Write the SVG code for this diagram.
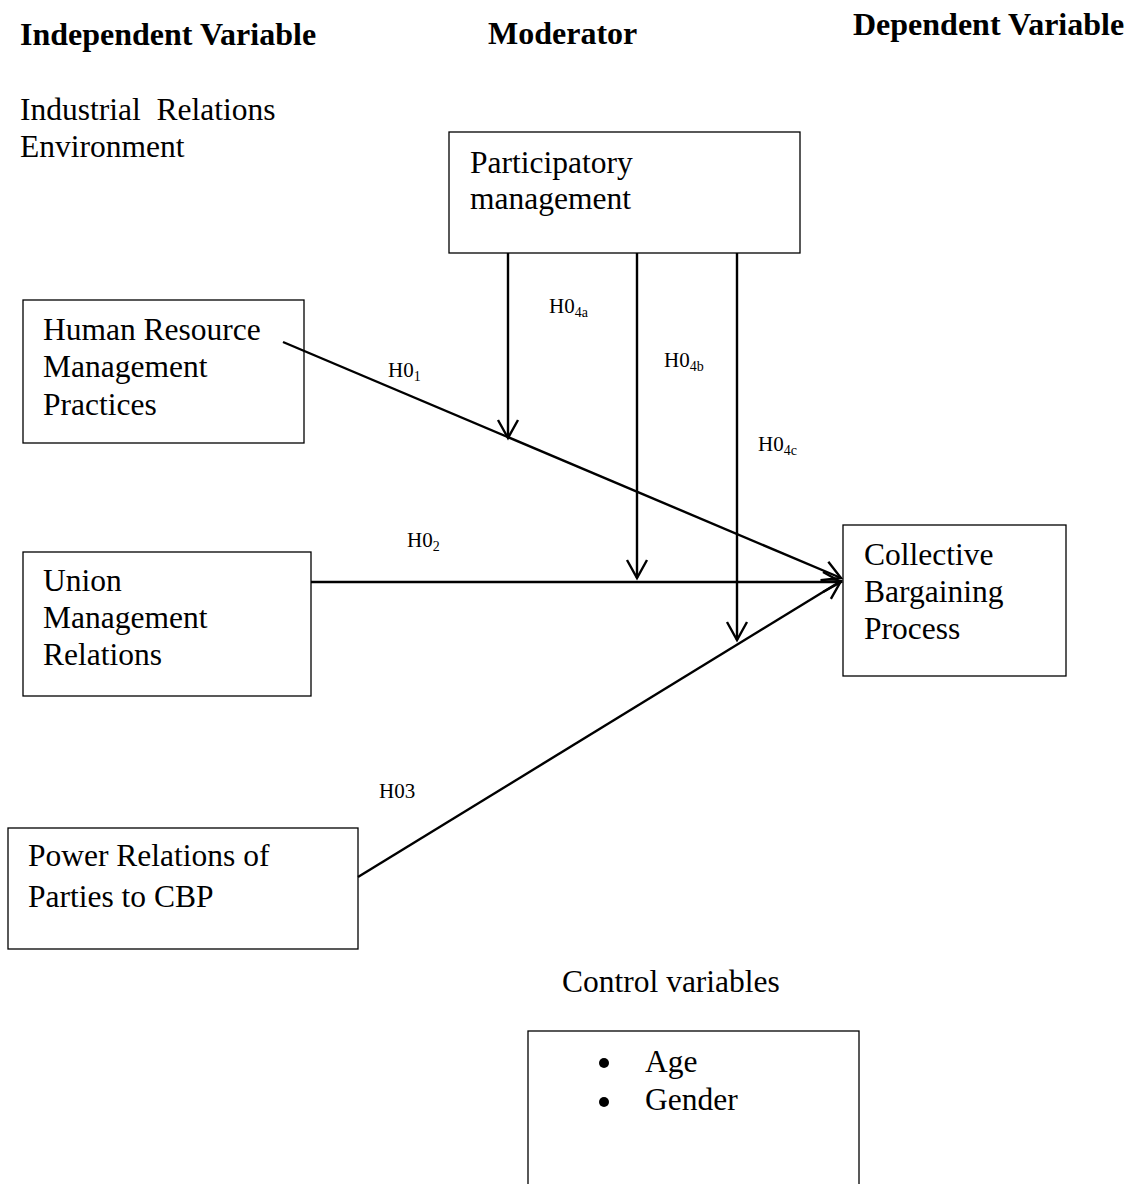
<svg xmlns="http://www.w3.org/2000/svg" width="1138" height="1184" viewBox="0 0 1138 1184">
<style>
text{font-family:"Liberation Serif","Times New Roman",serif;fill:#000}
.h{font-size:32px;font-weight:bold}
.t{font-size:31.5px}
.l{font-size:21px}
.s{font-size:14px}
.box{fill:#fff;stroke:#000;stroke-width:1.3}
.c{stroke:#000;stroke-width:2.4;fill:none}
</style>
<defs>
<marker id="arr" markerUnits="userSpaceOnUse" markerWidth="30" markerHeight="30" viewBox="-22 -15 30 30" refX="0" refY="0" orient="auto">
<path d="M-18,-10 L0,0 L-18,10" fill="none" stroke="#000" stroke-width="2.4"/>
</marker>
</defs>
<rect width="1138" height="1184" fill="#fff"/>
<g id="headers">
<text class="h" x="20" y="45">Independent Variable</text>
<text class="h" x="488" y="44">Moderator</text>
<text class="h" x="853" y="35">Dependent Variable</text>
</g>
<g id="environment-label">
<text class="t" x="20" y="120" xml:space="preserve">Industrial  Relations</text>
<text class="t" x="20" y="157">Environment</text>
</g>
<g id="participatory">
<rect class="box" x="449" y="132" width="351" height="121"/>
<text class="t" x="470" y="173">Participatory</text>
<text class="t" x="470" y="209">management</text>
</g>
<g id="hrm">
<rect class="box" x="23" y="300" width="281" height="143"/>
<text class="t" x="43" y="340">Human Resource</text>
<text class="t" x="43" y="377">Management</text>
<text class="t" x="43" y="415">Practices</text>
</g>
<g id="union">
<rect class="box" x="23" y="552" width="288" height="144"/>
<text class="t" x="43" y="591">Union</text>
<text class="t" x="43" y="628">Management</text>
<text class="t" x="43" y="665">Relations</text>
</g>
<g id="power">
<rect class="box" x="8" y="828" width="350" height="121"/>
<text class="t" x="28" y="866">Power Relations of</text>
<text class="t" x="28" y="907">Parties to CBP</text>
</g>
<g id="cbp">
<rect class="box" x="843" y="525" width="223" height="151"/>
<text class="t" x="864" y="565">Collective</text>
<text class="t" x="864" y="602">Bargaining</text>
<text class="t" x="864" y="639">Process</text>
</g>
<g id="control">
<text class="t" x="562" y="992">Control variables</text>
<rect class="box" x="528" y="1031" width="331" height="170"/>
<circle cx="604" cy="1063" r="5"/>
<text class="t" x="645" y="1072">Age</text>
<circle cx="604" cy="1102" r="5"/>
<text class="t" x="645" y="1110">Gender</text>
</g>
<g id="connectors">
<line class="c" x1="283" y1="342" x2="841" y2="578" marker-end="url(#arr)"/>
<line class="c" x1="311" y1="582" x2="841" y2="582" marker-end="url(#arr)"/>
<line class="c" x1="358" y1="877" x2="841" y2="581" marker-end="url(#arr)"/>
<line class="c" x1="508" y1="253" x2="508" y2="438" marker-end="url(#arr)"/>
<line class="c" x1="637" y1="253" x2="637" y2="578" marker-end="url(#arr)"/>
<line class="c" x1="737" y1="253" x2="737" y2="640" marker-end="url(#arr)"/>
</g>
<g id="labels">
<text class="l" x="388" y="377">H0<tspan class="s" dy="4">1</tspan></text>
<text class="l" x="407" y="547">H0<tspan class="s" dy="4">2</tspan></text>
<text class="l" x="549" y="313">H0<tspan class="s" dy="4">4a</tspan></text>
<text class="l" x="664" y="367">H0<tspan class="s" dy="4">4b</tspan></text>
<text class="l" x="758" y="451">H0<tspan class="s" dy="4">4c</tspan></text>
<text class="l" x="379" y="798">H03</text>
</g>
</svg>
